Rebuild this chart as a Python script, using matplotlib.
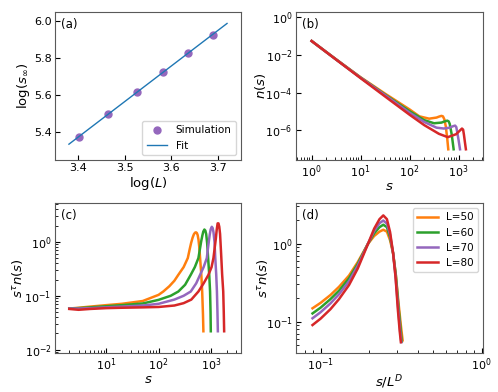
import matplotlib
matplotlib.use("Agg")
import matplotlib.pyplot as plt
import numpy as np

# (a) finite size scaling
log_L = [3.401, 3.465, 3.526, 3.583, 3.637, 3.689]
log_s_inf = [5.376, 5.498, 5.617, 5.724, 5.830, 5.928]
fit_range = [3.38, 3.72]

sizes = [50, 60, 70, 80]
colors = ["#ff7f0e", "#2ca02c", "#9467bd", "#d62728"]

# (b) n(s)
b_s = {
    50: [1, 3.16, 10, 31.6, 100, 158, 251, 355, 400, 447, 480, 515, 550, 589, 617],
    60: [1, 3.16, 10, 31.6, 100, 200, 316, 447, 520, 589, 630, 661, 724, 759, 794],
    70: [1, 3.16, 10, 31.6, 100, 200, 355, 501, 661, 760, 851, 900, 933, 1000, 1072],
    80: [1, 3.16, 10, 31.6, 100, 200, 398, 603, 891, 1050, 1175, 1240, 1288, 1349, 1413],
}
b_n = {
    50: [5.5e-2, 5.9e-3, 6.6e-4, 8.9e-5, 1.3e-5, 5.6e-6, 4.2e-6, 4.8e-6, 5.4e-6, 5.9e-6, 5.6e-6, 3.8e-6, 1.6e-6, 3.5e-7, 1.0e-7],
    60: [5.5e-2, 5.8e-3, 6.3e-4, 7.9e-5, 1.05e-5, 3.5e-6, 2.4e-6, 2.6e-6, 3.0e-6, 3.3e-6, 3.0e-6, 2.2e-6, 6.3e-7, 2.5e-7, 1.0e-7],
    70: [5.5e-2, 5.75e-3, 6.2e-4, 7.4e-5, 8.7e-6, 2.8e-6, 1.4e-6, 1.26e-6, 1.4e-6, 1.65e-6, 1.8e-6, 1.5e-6, 9.0e-7, 3.2e-7, 1.0e-7],
    80: [5.5e-2, 5.7e-3, 5.9e-4, 6.3e-5, 6.8e-6, 1.9e-6, 6.6e-7, 4.4e-7, 6.3e-7, 9.5e-7, 1.26e-6, 1.1e-6, 6.0e-7, 2.4e-7, 1.0e-7],
}

# (c) s^tau n(s)
c_s = {
    50: [2, 3, 5, 10, 20, 50, 100, 123, 160, 200, 238, 300, 360, 390, 416, 445, 470, 495, 515,
         535, 555, 575, 595, 617, 650, 676, 700, 713],
    60: [2, 3, 5, 10, 20, 50, 100, 170, 238, 320, 410, 490, 573, 610, 645, 680, 710, 745,
         775, 805, 840, 877, 920, 955, 975, 986],
    70: [2, 3, 5, 10, 20, 50, 100, 200, 300, 410, 520, 617, 720, 828, 865, 903, 940, 980, 1030,
         1070, 1110, 1160, 1200, 1250, 1290, 1320, 1343],
    80: [2, 3, 5, 10, 20, 50, 100, 200, 300, 420, 573, 720, 890, 1020, 1107, 1160, 1230, 1280, 1330,
         1380, 1430, 1480, 1550, 1620, 1700, 1740, 1770],
}
c_y = {
    50: [0.058, 0.060, 0.063, 0.067, 0.071, 0.080, 0.104, 0.12, 0.15, 0.19, 0.245, 0.34, 0.5, 0.72, 0.95, 1.2, 1.38, 1.48, 1.5,
         1.46, 1.33, 1.1, 0.8, 0.5, 0.25, 0.12, 0.045, 0.022],
    60: [0.058, 0.059, 0.061, 0.064, 0.067, 0.072, 0.084, 0.10, 0.12, 0.16, 0.245, 0.34, 0.5, 0.72, 1.0, 1.3, 1.55, 1.69,
         1.62, 1.4, 0.95, 0.5, 0.25, 0.12, 0.05, 0.022],
    70: [0.058, 0.058, 0.059, 0.061, 0.063, 0.066, 0.071, 0.085, 0.10, 0.12, 0.17, 0.245, 0.34, 0.5, 0.72, 1.0, 1.35, 1.7, 1.9,
         1.8, 1.5, 1.0, 0.5, 0.25, 0.12, 0.05, 0.022],
    80: [0.057, 0.055, 0.057, 0.059, 0.060, 0.061, 0.062, 0.066, 0.073, 0.085, 0.12, 0.17, 0.245, 0.34, 0.5, 0.72, 1.15, 1.7, 2.2,
         2.2, 1.9, 1.4, 0.6, 0.25, 0.12, 0.05, 0.022],
}

# (d) collapse
d_x = {
    50: [0.089, 0.10, 0.115, 0.13, 0.15, 0.17, 0.196, 0.215, 0.232, 0.245, 0.258, 0.27, 0.282, 0.293, 0.305, 0.315, 0.323],
    60: [0.089, 0.10, 0.115, 0.13, 0.15, 0.17, 0.196, 0.215, 0.232, 0.245, 0.258, 0.27, 0.282, 0.293, 0.304, 0.313, 0.319],
    70: [0.089, 0.10, 0.115, 0.13, 0.15, 0.17, 0.196, 0.215, 0.232, 0.245, 0.258, 0.27, 0.282, 0.292, 0.303, 0.311, 0.317],
    80: [0.089, 0.10, 0.115, 0.13, 0.15, 0.17, 0.196, 0.215, 0.232, 0.245, 0.258, 0.27, 0.282, 0.292, 0.302, 0.310, 0.315],
}
d_y = {
    50: [0.149, 0.175, 0.22, 0.28, 0.39, 0.58, 0.98, 1.25, 1.42, 1.5, 1.42, 1.1, 0.75, 0.4, 0.17, 0.09, 0.058],
    60: [0.128, 0.152, 0.195, 0.25, 0.36, 0.55, 0.98, 1.35, 1.62, 1.74, 1.62, 1.2, 0.75, 0.4, 0.16, 0.085, 0.056],
    70: [0.111, 0.133, 0.172, 0.225, 0.33, 0.52, 0.98, 1.45, 1.82, 1.97, 1.8, 1.3, 0.75, 0.38, 0.15, 0.08, 0.055],
    80: [0.091, 0.11, 0.145, 0.195, 0.295, 0.48, 0.97, 1.55, 2.05, 2.29, 2.05, 1.4, 0.75, 0.37, 0.14, 0.075, 0.055],
}

plt.rcParams["font.size"] = 8
plt.rcParams["axes.edgecolor"] = "0.35"
plt.rcParams["xtick.direction"] = "in"
plt.rcParams["ytick.direction"] = "in"
plt.rcParams["xtick.major.pad"] = 2.5
plt.rcParams["ytick.major.pad"] = 2.5

fig = plt.figure(figsize=(4.98, 3.92), dpi=100)
ax_a = fig.add_axes([0.1104, 0.5918, 0.3735, 0.3776])
ax_b = fig.add_axes([0.5944, 0.5918, 0.3755, 0.3776])
ax_c = fig.add_axes([0.1104, 0.0995, 0.3735, 0.3827])
ax_d = fig.add_axes([0.5944, 0.0995, 0.3755, 0.3827])

lw = 1.8
label_fs = 9.5

# (a)
slope, icpt = np.polyfit(log_L, log_s_inf, 1)
fx = np.array(fit_range)
ax_a.plot(log_L, log_s_inf, "o", color="#9467bd", ms=5, label="Simulation")
ax_a.plot(fx, slope * fx + icpt, color="#1f77b4", lw=1, label="Fit")
ax_a.set_xlim(3.35, 3.75)
ax_a.set_ylim(5.25, 6.05)
ax_a.set_xticks([3.4, 3.5, 3.6, 3.7])
ax_a.set_yticks([5.4, 5.6, 5.8, 6.0])
ax_a.set_xlabel(r"log($L$)", fontsize=label_fs, labelpad=1)
ax_a.set_ylabel(r"log($s_\infty$)", fontsize=label_fs)
ax_a.yaxis.set_label_coords(-0.125, 0.5)
ax_a.legend(loc="lower right", fontsize=7.5)

# (b)
for L, c in zip(sizes, colors):
    ax_b.plot(b_s[L], b_n[L], color=c, lw=lw)
ax_b.set_xscale("log")
ax_b.set_yscale("log")
ax_b.set_xlim(0.48, 3160)
ax_b.set_ylim(2.7e-8, 1.9)
ax_b.set_yticks([1e0, 1e-2, 1e-4, 1e-6])
ax_b.set_xlabel(r"$s$", fontsize=label_fs, labelpad=0)
ax_b.set_ylabel(r"$n(s)$", fontsize=label_fs)
ax_b.yaxis.set_label_coords(-0.15, 0.5)

# (c)
for L, c in zip(sizes, colors):
    ax_c.plot(c_s[L], c_y[L], color=c, lw=lw)
ax_c.set_xscale("log")
ax_c.set_yscale("log")
ax_c.set_xlim(1.07, 3700)
ax_c.set_ylim(0.0087, 5.25)
ax_c.set_xlabel(r"$s$", fontsize=label_fs, labelpad=0)
ax_c.set_ylabel(r"$s^\tau n(s)$", fontsize=label_fs)
ax_c.yaxis.set_label_coords(-0.16, 0.5)

# (d)
for L, c in zip(sizes, colors):
    ax_d.plot(d_x[L], d_y[L], color=c, lw=lw, label=f"L={L}")
ax_d.set_xscale("log")
ax_d.set_yscale("log")
ax_d.set_xlim(0.0703, 1.02)
ax_d.set_ylim(0.04, 3.3)
ax_d.set_xlabel(r"$s/L^D$", fontsize=label_fs, labelpad=0)
ax_d.set_ylabel(r"$s^\tau n(s)$", fontsize=label_fs)
ax_d.yaxis.set_label_coords(-0.14, 0.5)
ax_d.legend(loc="upper right", fontsize=7.5)

for ax, tag in zip([ax_a, ax_b, ax_c, ax_d], ["(a)", "(b)", "(c)", "(d)"]):
    ax.text(0.03, 0.96, tag, transform=ax.transAxes, va="top", ha="left", fontsize=8.5)
    ax.tick_params(which="both", direction="in")

fig.savefig("out.png", dpi=100)
